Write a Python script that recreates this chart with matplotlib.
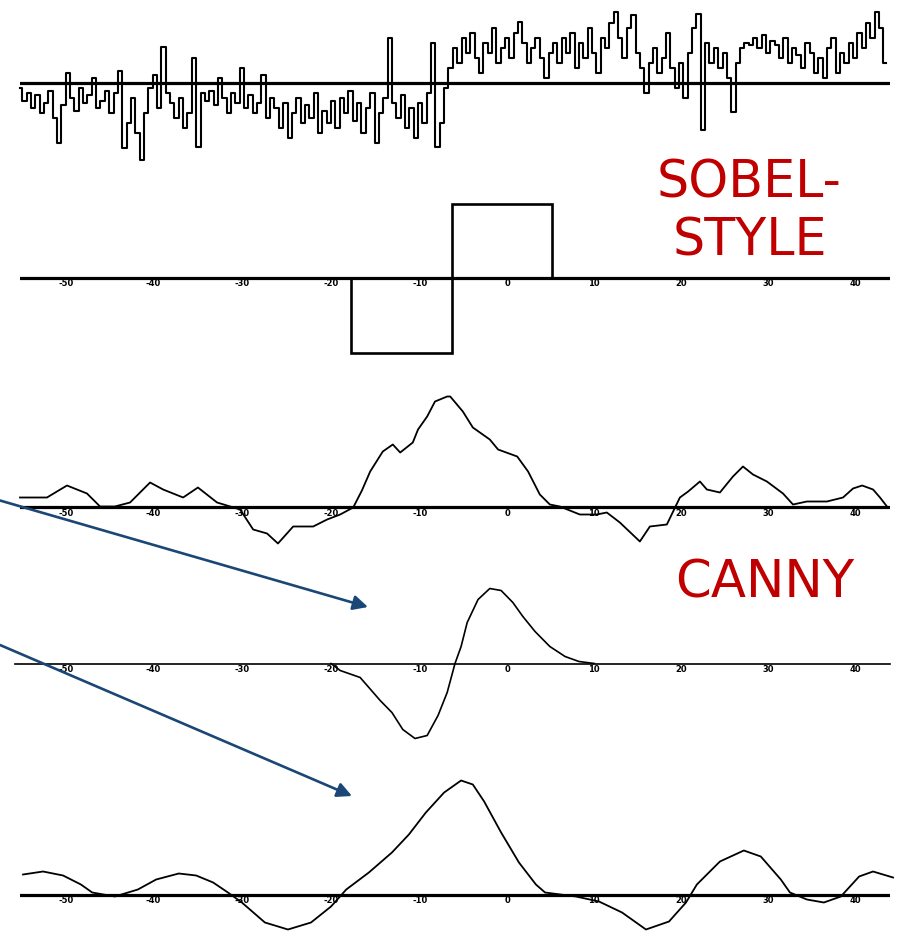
import numpy as np
import matplotlib
matplotlib.use("Agg")
import matplotlib.pyplot as plt

# ---------------- data ----------------
# Panel 1: noisy step signal (sample index 0..199, amplitude units)
noisy_signal = [
    -5, -18, -10, -25, -12, -30, -20, -8, -35, -60,
    -22, 10, -15, -28, -5, -20, -12, 5, -25, -18,
    -8, -30, -10, 12, -65, -40, -15, -50, -77, -30,
    -5, 8, -25, 36, -10, -20, -35, -15, -45, -30,
    25, -64, -10, -18, -8, -22, 5, -15, -30, -10,
    -20, 15, -25, -12, -30, -20, 8, -35, -15, -25,
    -45, -20, -55, -30, -15, -40, -22, -35, -10, -50,
    -28, -40, -18, -45, -15, -30, -8, -38, -20, -50,
    -25, -10, -60, -30, -15, 45, -20, -35, -12, -45,
    -25, -55, -20, -40, -10, 40, -64,
    -40, -5, 15, 35, 20, 45, 30, 50, 25, 10,
    40, 30, 55, 20, 35, 45, 25, 50, 61, 40,
    20, 35, 45, 25, 5, 30, 40, 20, 45, 30,
    50, 15, 40, 25, 55, 30, 10, 45, 35, 60,
    71, 45, 25, 55, 68, 30, 15, -10, 20, 35,
    10, 25, 50, 15, -5, 20, -15, 30, 55, 69,
    -47, 40, 20, 35, 15, 30, 5, -29, 20, 35,
    40, 38, 45, 35, 48, 30, 42, 38, 25, 45,
    20, 35, 28, 15, 40, 30, 10, 25, 5, 35,
    45, 10, 30, 20, 40, 25, 50, 35, 60, 45,
    71, 55, 20,
]

# Panel 2: Sobel-style kernel (edges in sample units, levels)
sobel_edges = [76, 99.3, 122.3]
sobel_levels = [-75, 74]

# Panel 3: signal convolved with Sobel-style kernel
sobel_x = [0, 6.2, 10.8, 15.4, 18.4, 21.8, 25.3, 29.9, 32.9, 37.5, 40.9, 45.3,
           50.6, 53.6, 56.8, 59.3, 62.8, 67.4, 70.6, 73.6, 76.6, 78.6, 80.5,
           83.4, 85.7, 87.4, 90.3, 91.5, 93.6, 95.4, 98.2, 98.9, 101.8, 104.1,
           108.0, 109.9, 114.3, 116.8, 119.5, 121.8, 124.1, 128.7, 132.6,
           134.9, 137.9, 142.5, 144.8, 148.7, 151.7, 153.6, 156.3, 157.9,
           160.9, 163.9, 166.2, 168.5, 171.7, 175.4, 177.7, 180.9, 185.5,
           189.2, 191.5, 193.6, 196.1, 197.7, 199.3]
sobel_y = [10, 10, 22, 14, 1, 1, 5, 25, 18, 10, 20, 5,
           -2, -22, -26, -36, -19, -19, -12, -7, 0, 17, 36,
           56, 63, 55, 65, 78, 91, 106, 111, 111, 96, 80,
           68, 58, 51, 36, 13, 3, 1, -7, -7,
           -5, -15, -34, -19, -17, 10, 16, 26, 18,
           15, 31, 41, 33, 26, 14, 3, 6, 6,
           10, 19, 22, 18, 10, 1]

# Panel 4: derivative-of-Gaussian (Canny) kernel
canny_x = [71.5, 73.6, 78.2, 80.2, 82.8, 85.5, 88.0, 90.8, 93.6, 96.1,
           98.2, 100.0, 101.4, 102.8, 105.3, 108.0, 110.6, 113.3, 115.6,
           118.4, 121.8, 125.3, 128.5, 132.0]
canny_y = [0, -7, -14, -24, -37, -49, -66, -75, -72, -52,
           -29, 0, 17, 41, 64, 75, 73, 61, 47,
           32, 17, 7, 2, 0]

# Panel 5: signal convolved with Canny kernel
canny_res_x = [0.7, 5.3, 9.9, 14.0, 16.6, 21.8, 27.1, 31.3, 36.5, 40.5, 44.4,
               47.8, 51.0, 56.3, 61.6, 66.9, 71.5, 75.0, 80.2, 85.5, 89.4,
               93.3, 97.5, 101.4, 104.1, 106.7, 110.6, 114.7, 118.6, 120.7,
               127.8, 133.1, 138.4, 143.9, 149.2, 153.1, 155.6, 160.9, 166.4,
               170.3, 174.9, 177.0, 180.9, 184.8, 188.7, 192.9, 196.1, 200.7]
canny_res_y = [20, 23, 19, 10, 2, -2, 5, 15, 21, 19, 12,
               2, -8, -28, -35, -28, -12, 5, 22, 42, 60,
               82, 102, 114, 110, 93, 62, 32, 10, 2,
               -2, -7, -18, -35, -27, -8, 10, 33, 44,
               38, 15, 2, -5, -8, -2, 18, 23, 17]

# tick positions / labels under the axis lines (illegible in the reference)
tick_pos = [10.5, 30.5, 51, 71.5, 92, 112, 132, 152, 172, 192]
tick_labels = ['-50', '-40', '-30', '-20', '-10', '0', '10', '20', '30', '40']

# ---------------- figure ----------------
W, H = 899, 934
fig = plt.figure(figsize=(W / 100, H / 100), dpi=100)
fig.patch.set_facecolor('white')


def make_axes(top, bottom, base, left=20, right=890):
    ax = fig.add_axes([left / W, 1 - bottom / H, (right - left) / W, (bottom - top) / H])
    ax.set_xlim(0, 200)
    ax.set_ylim(-(bottom - base), base - top)
    ax.patch.set_alpha(0)
    for s in ax.spines.values():
        s.set_visible(False)
    ax.set_yticks([])
    ax.set_xticks([])
    return ax


def add_ticks(ax):
    for p, lab in zip(tick_pos, tick_labels):
        ax.text(p, -1.5, lab, fontsize=6, fontweight='heavy', ha='center', va='top',
                color='black', clip_on=False)


# Panel 1
ax1 = make_axes(5, 165, 83)
xs = np.arange(len(noisy_signal))
ax1.plot(xs, noisy_signal, color='black', lw=1.5, drawstyle='steps-mid', clip_on=False)
ax1.axhline(0, color='black', lw=2.3)

# Panel 2
ax2 = make_axes(190, 365, 277.5)
kx = [sobel_edges[0], sobel_edges[0], sobel_edges[1], sobel_edges[1], sobel_edges[2], sobel_edges[2]]
ky = [0, sobel_levels[0], sobel_levels[0], sobel_levels[1], sobel_levels[1], 0]
ax2.plot(kx, ky, color='black', lw=1.9, solid_joinstyle='miter')
ax2.axhline(0, color='black', lw=2.3)
add_ticks(ax2)

# Panel 3
ax3 = make_axes(385, 545, 507.5)
ax3.plot(sobel_x, sobel_y, color='black', lw=1.3, clip_on=False)
ax3.axhline(0, color='black', lw=2.3)
add_ticks(ax3)

# Panel 4
ax4 = make_axes(575, 750, 663.5)
ax4.plot(canny_x, canny_y, color='black', lw=1.2, clip_on=False)
ax4.plot([-1.2, 200], [0, 0], color='black', lw=1.2, clip_on=False)
add_ticks(ax4)

# Panel 5
ax5 = make_axes(765, 934, 894.5)
ax5.plot(canny_res_x, canny_res_y, color='black', lw=1.3, clip_on=False)
ax5.axhline(0, color='black', lw=2.3)
add_ticks(ax5)

# Labels
red = '#C00000'
fig.text(749 / W, 1 - 198 / H, 'SOBEL-', color=red, fontsize=36.5, ha='center',
         va='baseline', family='DejaVu Sans')
fig.text(750 / W, 1 - 255 / H, 'STYLE', color=red, fontsize=36.5, ha='center',
         va='baseline', family='DejaVu Sans')
fig.text(765 / W, 1 - 598 / H, 'CANNY', color=red, fontsize=37, ha='center',
         va='baseline', family='DejaVu Sans')

# Arrows
blue = '#1A4775'
for (x0, y0), (x1, y1) in [((0, 500.5), (368, 607)), ((0, 645), (352, 796))]:
    fig.add_artist(matplotlib.patches.FancyArrowPatch(
        (x0 / W, 1 - y0 / H), (x1 / W, 1 - y1 / H), transform=fig.transFigure,
        arrowstyle='-|>', mutation_scale=22, lw=1.9, color=blue,
        shrinkA=0, shrinkB=0))

fig.savefig('out.png', dpi=100, facecolor='white')
